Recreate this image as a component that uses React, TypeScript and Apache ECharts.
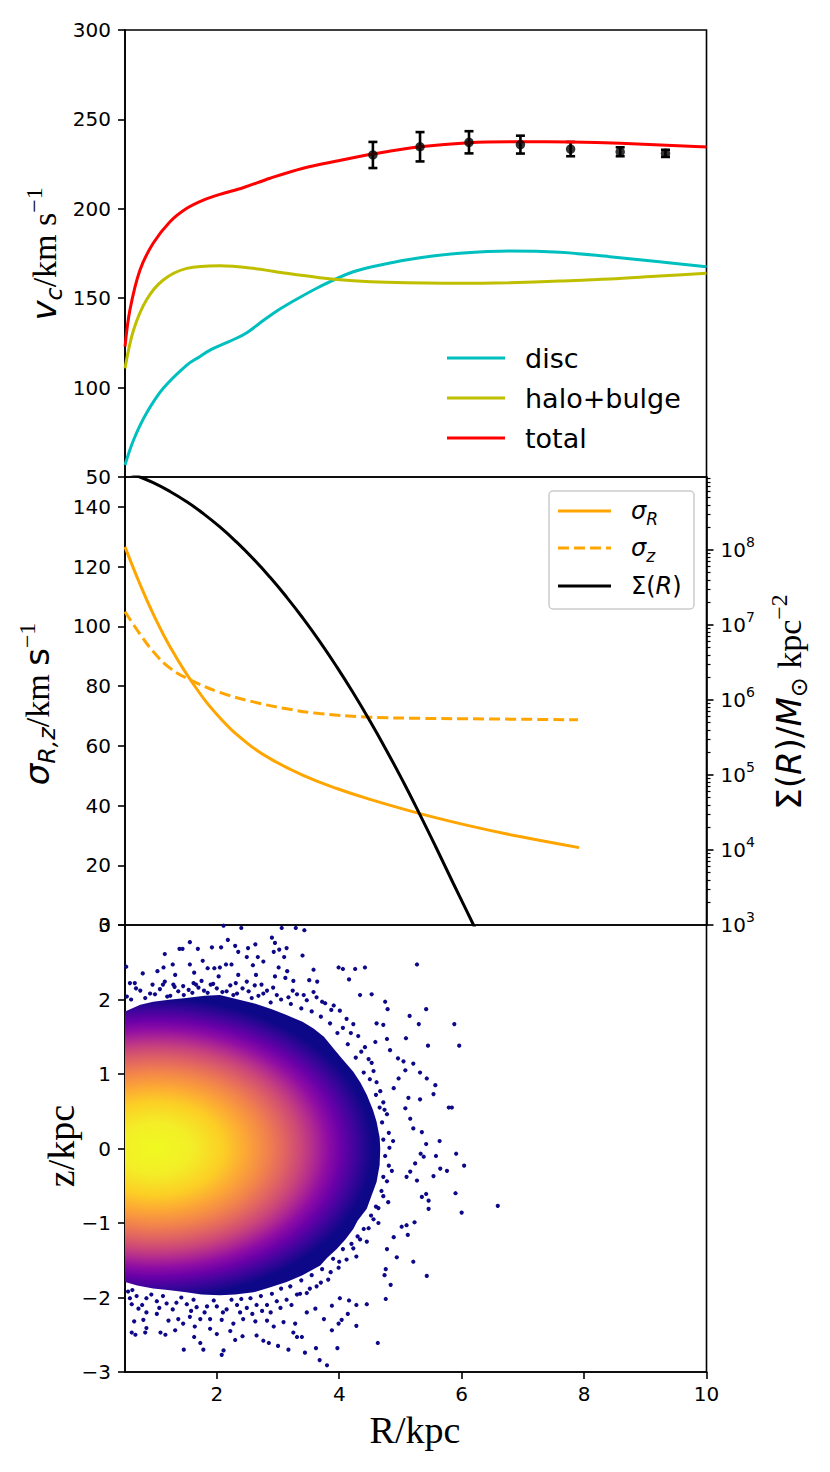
import React, { useEffect, useRef } from "react";
import * as echarts from "echarts";

// ---------------- data ----------------
// top panel: circular velocity curves [R (kpc), v_c (km/s)]
const discCurve: number[][] = [
  [0.5, 56.7], [0.64, 70.7], [0.85, 85.6], [1.125, 99.6], [1.51, 112.6], [1.72, 117.3], [1.89, 121.0],
  [2.32, 127.6], [2.49, 130.7], [2.7, 136.0], [2.92, 141.5], [3.14, 146.2], [3.68, 156.4], [4.23, 164.8],
  [4.77, 169.3], [5.32, 172.6], [5.97, 175.1], [6.78, 176.4], [7.6, 175.7], [8.42, 173.2], [9.23, 170.4], [10, 167.6],
];
const haloBulgeCurve: number[][] = [
  [0.5, 110.8], [0.64, 132.2], [0.85, 149.0], [1.125, 160.2], [1.51, 166.7], [2.05, 168.2], [2.6, 166.7],
  [3.14, 163.9], [3.68, 161.5], [4.23, 159.8], [4.77, 158.9], [5.97, 158.3], [6.78, 158.7], [7.6, 159.6],
  [8.42, 160.7], [9.23, 162.4], [10, 163.9],
];
const totalCurve: number[][] = [
  [0.5, 122.9], [0.58, 143.4], [0.745, 165.8], [0.96, 180.7], [1.235, 192.8], [1.51, 200.3], [1.78, 204.9],
  [2.05, 208.1], [2.43, 211.8], [2.87, 217.1], [3.41, 222.7], [3.96, 226.7], [4.55, 230.6], [5.32, 234.7],
  [6.12, 237.0], [6.96, 237.5], [7.78, 237.3], [8.59, 236.6], [9.91, 234.7], [10, 234.6],
];
// observed points [R, v_c, error]
const observed: number[][] = [
  [4.55, 230.1, 7.3], [5.32, 234.7, 8.2], [6.12, 237.2, 6.2], [6.96, 235.9, 5.0],
  [7.78, 233.4, 4.0], [8.59, 231.9, 2.5], [9.33, 231.0, 2.0],
];

// middle panel: dispersions [R, sigma (km/s)] and log10 surface density [R, log10 Sigma]
const sigmaRCurve: number[][] = [
  [0.5, 126.6], [0.745, 114.1], [0.96, 104.2], [1.235, 93.2], [1.615, 80.7], [2.05, 69.4], [2.49, 61.0],
  [2.87, 55.7], [3.41, 50.1], [3.96, 45.7], [4.5, 42.1], [5.32, 37.3], [6.13, 33.2], [6.95, 29.6], [7.92, 25.9],
];
const sigmaZCurve: number[][] = [
  [0.5, 104.9], [0.745, 97.4], [0.96, 91.6], [1.235, 86.0], [1.615, 81.6], [2.05, 77.9], [2.6, 74.7],
  [3.14, 72.4], [3.68, 70.8], [4.5, 69.6], [5.32, 69.2], [6.4, 69.0], [7.9, 68.7],
];
const logSurfaceDensity: number[][] = [
  [0.5, 9.043], [0.69, 8.99], [0.96, 8.897], [1.235, 8.78], [1.51, 8.642], [1.78, 8.485], [2.05, 8.307],
  [2.32, 8.107], [2.6, 7.878], [2.87, 7.636], [3.14, 7.372], [3.41, 7.087], [3.68, 6.781], [3.96, 6.441],
  [4.23, 6.092], [4.5, 5.722], [4.77, 5.331], [5.05, 4.903], [5.32, 4.469], [5.59, 4.02], [5.86, 3.56],
  [6.2, 2.99], [6.35, 2.73],
];

// bottom panel: particle distribution [R, z]
const denseEdge: number[][] = [
  [0.5, 1.84], [0.75, 1.93], [0.96, 1.97], [1.25, 2.0], [1.5, 2.02], [1.8, 2.05], [2.05, 2.06], [2.35, 2.0],
  [2.6, 1.95], [2.9, 1.87], [3.14, 1.79], [3.4, 1.7], [3.58, 1.61], [3.75, 1.5], [3.9, 1.35], [4.05, 1.2],
  [4.23, 1.03], [4.35, 0.88], [4.45, 0.72], [4.55, 0.52], [4.61, 0.36], [4.66, 0.15], [4.67, 0], [4.66, -0.22],
  [4.61, -0.45], [4.52, -0.65], [4.45, -0.81], [4.3, -0.97], [4.23, -1.08], [4.1, -1.22], [3.96, -1.35],
  [3.8, -1.47], [3.69, -1.57], [3.4, -1.7], [3.14, -1.79], [2.85, -1.87], [2.6, -1.93], [2.3, -1.96],
  [2.05, -1.97], [1.75, -1.96], [1.5, -1.93], [1.2, -1.9], [0.96, -1.88], [0.7, -1.84], [0.5, -1.79],
];
const denseCentre: number[] = [1.0, 0];
const denseRadii: number[] = [3.7, 2.1];
const sparseStars: number[][] = [
  [2.11, 2.99], [2.4, 2.96], [3.06, 2.96], [3.29, 2.96], [3.43, 2.93], [2.9, 2.83], [2.18, 2.8], [1.56, 2.77],
  [2.95, 2.76], [2.63, 2.74], [1.92, 2.7], [2.07, 2.7], [2.3, 2.72], [2.51, 2.69], [1.39, 2.68], [1.44, 2.68],
  [1.69, 2.68], [2.93, 2.64], [3.02, 2.67], [3.14, 2.69], [1.15, 2.61], [2.35, 2.64], [2.49, 2.57], [2.67, 2.57],
  [3.1, 2.57], [3.4, 2.59], [1.28, 2.47], [1.13, 2.43], [1.56, 2.47], [1.77, 2.52], [1.85, 2.42], [1.96, 2.42],
  [2.05, 2.43], [2.15, 2.47], [2.24, 2.47], [2.59, 2.46], [2.76, 2.51], [3.01, 2.43], [3.15, 2.38], [3.58, 2.4],
  [3.99, 2.43], [4.06, 2.41], [4.26, 2.41], [4.42, 2.43], [5.27, 2.47], [0.79, 2.35], [1.03, 2.38], [1.32, 2.33],
  [1.63, 2.36], [2.03, 2.31], [2.35, 2.33], [2.64, 2.33], [2.95, 2.31], [3.12, 2.29], [3.25, 2.25], [3.51, 2.26],
  [3.64, 2.24], [4.16, 2.27], [0.58, 2.22], [0.66, 2.22], [0.95, 2.2], [1.15, 2.24], [1.29, 2.2], [1.45, 2.18],
  [1.62, 2.22], [1.75, 2.25], [1.94, 2.21], [2.31, 2.22], [2.49, 2.24], [2.73, 2.2], [0.52, 2.44],
  [0.53, 2.04], [0.75, 2.12], [0.91, 2.08], [1.07, 2.14], [1.24, 2.05], [1.37, 2.11], [1.54, 2.13], [1.7, 2.16],
  [1.85, 2.09], [2.0, 2.15], [2.16, 2.11], [2.33, 2.08], [2.52, 2.11], [2.68, 2.05], [2.82, 2.12], [2.98, 2.06],
  [3.17, 2.03], [3.31, 2.07], [3.47, 1.99], [3.63, 2.03], [3.77, 1.95], [3.91, 1.92], [4.01, 1.85], [4.12, 1.74],
  [4.23, 1.67], [4.31, 1.51], [4.42, 1.36], [4.48, 1.2], [4.56, 1.04], [4.61, 0.89], [4.67, 0.77], [4.72, 0.62],
  [4.78, 0.46], [4.81, 0.21], [4.82, 0.01], [4.81, -0.23], [4.78, -0.44], [4.72, -0.64], [4.64, -0.8],
  [4.56, -0.95], [4.48, -1.07], [4.34, -1.22], [4.23, -1.34], [4.12, -1.49], [3.99, -1.6], [3.82, -1.76],
  [3.63, -1.85], [3.47, -1.94], [3.31, -1.96], [3.14, -2.03], [2.98, -2.05], [2.82, -2.1], [2.65, -2.1],
  [2.49, -2.14], [2.33, -2.1], [2.16, -2.16], [2.0, -2.12], [1.84, -2.12], [1.67, -2.13], [1.51, -2.09],
  [1.34, -2.07], [1.18, -2.08], [1.02, -2.05], [0.85, -2.01], [0.69, -1.98], [0.55, -1.92],
  [4.34, 2.06], [4.53, 2.07], [4.75, 1.97], [4.79, 1.87], [5.15, 1.78], [5.42, 1.87], [5.3, 1.67], [5.88, 1.67],
  [5.96, 1.38], [5.45, 1.38], [5.09, 1.48], [4.78, 1.47], [4.59, 1.43], [4.61, 1.68], [4.72, 1.66], [4.83, 1.32],
  [4.96, 1.21], [5.05, 1.17], [5.21, 1.14], [5.08, 1.05], [5.32, 1.02], [5.43, 0.94], [5.57, 0.85], [5.54, 0.73],
  [5.32, 0.66], [5.13, 0.68], [5.79, 0.55], [5.84, 0.55], [4.97, 0.94], [4.89, 0.81], [5.08, 0.54], [5.16, 0.4],
  [5.21, 0.27], [5.35, 0.22], [5.42, 0.06], [5.64, 0.1], [5.58, -0.1], [5.65, -0.27], [5.76, -0.3], [5.91, -0.07],
  [6.04, -0.23], [5.33, -0.07], [5.38, -0.11], [5.54, -0.37], [5.16, -0.31], [5.24, -0.2], [5.27, -0.43],
  [5.1, -0.38], [5.9, -0.6], [6.0, -0.86], [6.59, -0.77], [5.42, -0.61], [5.46, -0.7], [5.46, -0.81],
  [5.35, -0.65], [5.23, -0.99], [5.1, -1.03], [5.21, -1.52], [5.43, -1.71], [5.12, -1.16], [5.02, -1.05],
  [4.89, -1.19], [4.78, -1.35], [4.94, -1.46], [4.76, -1.62], [4.74, -1.7], [4.84, -1.83], [4.76, -2.02],
  [4.45, -2.09],
  [4.63, -2.61], [4.28, -2.38], [4.14, -2.22], [3.97, -2.68], [3.8, -2.91], [3.68, -2.84], [3.62, -2.68],
  [3.44, -2.74], [3.17, -2.7], [3.0, -2.65], [2.85, -2.61], [2.76, -2.58], [2.65, -2.51], [2.42, -2.52],
  [2.3, -2.57], [2.11, -2.71], [2.08, -2.77], [1.46, -2.7], [1.73, -2.61], [1.78, -2.7], [1.63, -2.53],
  [1.16, -2.5], [1.08, -2.47], [0.83, -2.47], [0.67, -2.5], [0.61, -2.47], [0.65, -2.32], [0.8, -2.3],
  [0.85, -2.41], [1.32, -2.44], [1.45, -2.35], [1.64, -2.39], [1.89, -2.42], [2.0, -2.49], [2.22, -2.45],
  [3.25, -2.47], [3.31, -2.53], [3.39, -2.53], [3.88, -2.44], [3.99, -2.35], [4.04, -2.3], [4.28, -2.1],
  [4.16, -2.04], [4.01, -2.01], [3.88, -2.11], [3.75, -2.29], [3.61, -2.15], [3.47, -2.2], [3.28, -2.35],
  [3.09, -2.33], [2.93, -2.39], [2.82, -2.31], [2.63, -2.32], [2.43, -2.29], [2.27, -2.35], [2.08, -2.3],
  [1.89, -2.29], [1.73, -2.29], [1.56, -2.26], [1.37, -2.29], [1.21, -2.31], [1.02, -2.22], [0.85, -2.2],
  [0.72, -2.15], [0.61, -2.09],
];
// speckle just outside the dense edge
const edgeStars: number[][] = [
  [0.6, 2.0], [0.68, 2.15], [0.83, 2.02], [0.99, 2.07], [1.12, 2.2], [1.19, 2.04], [1.31, 2.17], [1.46, 2.06],
  [1.6, 2.09], [1.66, 2.2], [1.79, 2.12], [1.9, 2.2], [2.09, 2.1], [2.22, 2.19], [2.27, 2.06], [2.42, 2.15],
  [2.57, 2.02], [2.62, 2.19], [2.76, 2.08], [2.88, 1.96], [2.92, 2.16], [3.05, 2.0], [3.21, 1.94], [3.24, 2.12],
  [3.38, 1.88], [3.42, 2.06], [3.55, 1.84], [3.58, 2.1], [3.7, 1.77], [3.72, 1.97], [3.85, 1.68], [3.87, 1.86],
  [3.97, 1.55], [4.06, 1.62], [4.14, 1.4], [4.19, 1.55], [4.27, 1.22], [4.36, 1.3], [4.4, 1.02], [4.5, 0.93],
  [4.53, 1.15], [4.6, 0.72], [4.66, 0.55], [4.7, 0.35], [4.74, 0.52], [4.72, 0.12], [4.88, 0.1], [4.75, -0.1],
  [4.86, -0.3], [4.72, -0.38], [4.69, -0.57], [4.8, -0.72], [4.6, -0.78], [4.52, -0.9], [4.64, -1.0],
  [4.4, -1.08], [4.45, -1.25], [4.3, -1.18], [4.2, -1.28], [4.28, -1.45], [4.06, -1.35], [4.0, -1.52],
  [3.9, -1.48], [3.86, -1.66], [3.72, -1.62], [3.7, -1.8], [3.55, -1.7], [3.52, -1.88], [3.38, -1.77],
  [3.36, -1.95], [3.2, -1.85], [3.22, -2.1], [3.05, -1.88], [3.04, -2.14], [2.9, -1.95], [2.88, -2.2],
  [2.72, -1.98], [2.74, -2.18], [2.55, -2.01], [2.58, -2.22], [2.4, -2.02], [2.38, -2.2], [2.24, -2.03],
  [2.1, -2.2], [1.95, -2.04], [1.8, -2.2], [1.62, -2.03], [1.58, -2.18], [1.42, -2.0], [1.28, -2.16],
  [1.12, -1.98], [1.06, -2.14], [0.93, -1.96], [0.78, -2.1], [0.62, -1.9], [0.58, -2.01],
];

// tick values
const vTicks = [50, 100, 150, 200, 250, 300];
const sigmaTicks = [0, 20, 40, 60, 80, 100, 120, 140];
const logTicks = [3, 4, 5, 6, 7, 8];
const zTicks = [-3, -2, -1, 0, 1, 2, 3];
const rTicks = [2, 4, 6, 8, 10];

// ---------------- styling ----------------
const LEFT = 125;
const WIDTH = 581.5;
const SANS = "DejaVu Sans";
const SERIF = "Liberation Serif";
const AX = { color: "#000", width: 1.6 };
const PLASMA: [number, string][] = [
  [0, "#f0f921"], [0.16, "#f3ee27"], [0.3, "#fcce25"], [0.4, "#fca636"], [0.49, "#f2844b"],
  [0.57, "#e16462"], [0.64, "#cc4778"], [0.7, "#b12a90"], [0.76, "#8f0da4"], [0.82, "#6a00a8"],
  [0.88, "#41049d"], [0.96, "#0d0887"], [1, "#0d0887"],
];

const minorLogTicks: number[] = [];
logTicks.forEach((n) => {
  for (let k = 2; k <= 9; k++) {
    const v = n + Math.log10(k);
    if (v < 8.973) minorLogTicks.push(v);
  }
});

const tickLabel = { fontFamily: SANS, fontSize: 20, color: "#000" };
const hiddenX = (gridIndex: number) => ({
  gridIndex, type: "value", min: 0.5, max: 10,
  axisLine: { show: false, onZero: false }, axisTick: { show: false },
  axisLabel: { show: false }, splitLine: { show: false },
});

const titleRich = (size: number) => ({
  it: { fontFamily: SANS, fontStyle: "italic", fontSize: size, lineHeight: size + 10, fill: "#000" },
  sf: { fontFamily: SANS, fontSize: size, lineHeight: size + 10, fill: "#000" },
  rm: { fontFamily: SERIF, fontSize: size, lineHeight: size + 10, fill: "#000" },
  sub: { fontFamily: SANS, fontStyle: "italic", fontSize: size * 0.7, lineHeight: size * 0.7, verticalAlign: "bottom", fill: "#000" },
  subn: { fontFamily: SANS, fontSize: size * 0.7, lineHeight: size * 0.7, verticalAlign: "bottom", fill: "#000" },
  sup: { fontFamily: SERIF, fontSize: size * 0.7, lineHeight: size * 0.7, verticalAlign: "top", fill: "#000" },
});

function buildOption() {
  const lineSeries = (name: string, data: number[][], color: string, grid: number, yIdx: number, smooth: number, dash?: number[]) => ({
    name, type: "line", data, xAxisIndex: grid, yAxisIndex: yIdx, showSymbol: false, symbol: "none",
    smooth, clip: true, silent: true,
    lineStyle: { color, width: 3, type: dash ? dash : "solid" },
  });

  const legendLine = (x1: number, x2: number, y: number, color: string, dash?: number[]) => ({
    type: "line", z: 100, silent: true,
    shape: { x1, y1: y, x2, y2: y },
    style: { stroke: color, lineWidth: 3, lineDash: dash },
  });
  const plainText = (x: number, y: number, text: string, size: number) => ({
    type: "text", z: 100, x, y, silent: true,
    style: { text, fill: "#000", font: `${size}px "${SANS}"`, verticalAlign: "middle", align: "left" },
  });
  const richText = (x: number, y: number, text: string, rich: any, rotation = 0) => ({
    type: "text", z: 100, x, y, rotation, silent: true,
    style: { text, rich, fill: "#000", align: rotation ? "center" : "left", verticalAlign: "middle" },
  });

  const legRich = {
    it: { fontFamily: SANS, fontStyle: "italic", fontSize: 24, lineHeight: 32, fill: "#000" },
    n: { fontFamily: SANS, fontSize: 24, lineHeight: 32, fill: "#000" },
    sub: { fontFamily: SANS, fontStyle: "italic", fontSize: 17, lineHeight: 17, verticalAlign: "bottom", fill: "#000" },
  };

  const starSeries = (name: string, data: number[][]) => ({
    name, type: "scatter", xAxisIndex: 2, yAxisIndex: 4, silent: true,
    data, symbol: "circle", symbolSize: 4.2,
    itemStyle: { color: "#0d0887", opacity: 1 }, z: 4,
  });

  return {
    animation: false,
    backgroundColor: "#fff",
    grid: [
      { left: LEFT, top: 30, width: WIDTH, height: 447, show: true, borderColor: "#000", borderWidth: 1.6, backgroundColor: "transparent", outerBoundsMode: "none" },
      { left: LEFT, top: 477, width: WIDTH, height: 448, show: true, borderColor: "#000", borderWidth: 1.6, backgroundColor: "transparent", outerBoundsMode: "none" },
      { left: LEFT, top: 925, width: WIDTH, height: 447, show: true, borderColor: "#000", borderWidth: 1.6, backgroundColor: "transparent", outerBoundsMode: "none" },
    ],
    xAxis: [
      hiddenX(0),
      hiddenX(1),
      {
        gridIndex: 2, type: "value", min: 0.5, max: 10,
        axisLine: { show: true, onZero: false, lineStyle: AX },
        axisTick: { show: true, length: 7, lineStyle: AX, customValues: rTicks },
        axisLabel: { ...tickLabel, margin: 12, customValues: rTicks },
        splitLine: { show: false },
      },
    ],
    yAxis: [
      {
        gridIndex: 0, type: "value", min: 50, max: 300, interval: 50,
        axisLine: { show: true, onZero: false, lineStyle: AX },
        axisTick: { show: true, length: 7, lineStyle: AX, customValues: vTicks },
        axisLabel: { ...tickLabel, margin: 14, customValues: vTicks },
        splitLine: { show: false },
      },
      {
        gridIndex: 1, type: "value", min: 0, max: 150,
        axisLine: { show: true, onZero: false, lineStyle: AX },
        axisTick: { show: true, length: 7, lineStyle: AX, customValues: sigmaTicks },
        axisLabel: { ...tickLabel, margin: 14, customValues: sigmaTicks },
        splitLine: { show: false },
      },
      {
        gridIndex: 1, type: "value", position: "right", min: 3, max: 8.973,
        axisLine: { show: true, onZero: false, lineStyle: AX },
        axisTick: { show: true, length: 7, lineStyle: AX, customValues: logTicks },
        axisLabel: {
          margin: 14, customValues: logTicks,
          formatter: (v: number) => `{a|10}{b|${Math.round(v)}}`,
          rich: {
            a: { fontFamily: SANS, fontSize: 20, lineHeight: 30, color: "#000" },
            b: { fontFamily: SANS, fontSize: 14, lineHeight: 14, verticalAlign: "top", color: "#000" },
          },
        },
        splitLine: { show: false },
      },
      {
        gridIndex: 1, type: "value", position: "right", min: 3, max: 8.973,
        axisLine: { show: false, onZero: false },
        axisTick: { show: true, length: 4, lineStyle: { color: "#000", width: 1.2 }, customValues: minorLogTicks },
        axisLabel: { show: false },
        splitLine: { show: false },
      },
      {
        gridIndex: 2, type: "value", min: -3, max: 3, interval: 1,
        axisLine: { show: true, onZero: false, lineStyle: AX },
        axisTick: { show: true, length: 7, lineStyle: AX, customValues: zTicks },
        axisLabel: {
          ...tickLabel, margin: 14, customValues: zTicks,
          formatter: (v: number) => (v < 0 ? "\u2212" + Math.abs(v) : String(v)),
        },
        splitLine: { show: false },
      },
    ],
    series: [
      lineSeries("disc", discCurve, "#00bfbf", 0, 0, 0.35),
      lineSeries("halo+bulge", haloBulgeCurve, "#bfbf00", 0, 0, 0.35),
      lineSeries("total", totalCurve, "#ff0000", 0, 0, 0.35),
      {
        name: "errors", type: "custom", xAxisIndex: 0, yAxisIndex: 0, silent: true,
        data: observed, encode: { x: 0, y: 1 },
        renderItem: (params: any, api: any) => {
          const x = api.value(0), y = api.value(1), e = api.value(2);
          const top = api.coord([x, y + e]);
          const bot = api.coord([x, y - e]);
          const st = { stroke: "#000", lineWidth: 2.6 };
          const cap = 4.5;
          return {
            type: "group",
            children: [
              { type: "line", shape: { x1: top[0], y1: top[1], x2: bot[0], y2: bot[1] }, style: st },
              { type: "line", shape: { x1: top[0] - cap, y1: top[1], x2: top[0] + cap, y2: top[1] }, style: st },
              { type: "line", shape: { x1: bot[0] - cap, y1: bot[1], x2: bot[0] + cap, y2: bot[1] }, style: st },
            ],
          };
        },
      },
      {
        name: "observed", type: "scatter", xAxisIndex: 0, yAxisIndex: 0, silent: true,
        data: observed.map((d) => [d[0], d[1]]), symbol: "circle", symbolSize: 9.5,
        itemStyle: { color: "#000" }, z: 5,
      },
      lineSeries("sigmaR", sigmaRCurve, "#ffa500", 1, 1, 0.45),
      lineSeries("sigmaZ", sigmaZCurve, "#ffa500", 1, 1, 0.45, [11, 5]),
      lineSeries("Sigma", logSurfaceDensity, "#000", 1, 2, 0.5),
      {
        name: "density", type: "custom", xAxisIndex: 2, yAxisIndex: 4, silent: true,
        data: [denseCentre],
        encode: { x: 0, y: 1 },
        renderItem: (params: any, api: any) => {
          const c = api.coord(denseCentre);
          const rx = api.size([denseRadii[0], 0])[0];
          const ry = api.size([0, denseRadii[1]])[1];
          const s = ry / rx;
          const pts = denseEdge.map((p) => {
            const q = api.coord(p);
            return [q[0] - c[0], (q[1] - c[1]) / s];
          });
          const fill = new echarts.graphic.RadialGradient(
            0, 0, rx, PLASMA.map(([offset, color]) => ({ offset, color })), true
          );
          return {
            type: "group", x: c[0], y: c[1], scaleY: s,
            children: [{ type: "polygon", shape: { points: pts }, style: { fill, stroke: "none" } }],
          };
        },
      },
      starSeries("stars", sparseStars),
      starSeries("edgeStars", edgeStars),
    ],
    graphic: [
      // top legend
      legendLine(447, 505, 358, "#00bfbf"),
      legendLine(447, 505, 398, "#bfbf00"),
      legendLine(447, 505, 438, "#ff0000"),
      plainText(525, 358, "disc", 27),
      plainText(525, 398, "halo+bulge", 27),
      plainText(525, 438, "total", 27),
      // middle legend
      {
        type: "rect", z: 99, silent: true,
        shape: { x: 549, y: 491, width: 145, height: 118, r: 4 },
        style: { fill: "rgba(255,255,255,0.8)", stroke: "#cccccc", lineWidth: 1.5 },
      },
      legendLine(558, 611, 511, "#ffa500"),
      legendLine(558, 611, 548, "#ffa500", [11, 5]),
      legendLine(558, 611, 586, "#000"),
      richText(631, 511, "{it|σ}{sub|R}", legRich),
      richText(631, 548, "{it|σ}{sub|z}", legRich),
      richText(631, 586, "{n|Σ(}{it|R}{n|)}", legRich),
      // axis titles
      richText(44, 254, "{it|v}{sub|c}{rm|/km s}{sup|\u22121}", titleRich(34), Math.PI / 2),
      richText(37, 704, "{it|σ}{sub|R,z}{rm|/km }{sf|s}{sup|\u22121}", titleRich(34), Math.PI / 2),
      richText(789, 702, "{sf|Σ(}{it|R}{sf|)/}{it|M}{subn|⊙}{rm| kpc}{sup|\u22122}", titleRich(34), Math.PI / 2),
      {
        type: "text", z: 100, x: 61, y: 1146, rotation: Math.PI / 2, silent: true,
        style: { text: "z/kpc", fill: "#000", font: `38px "${SERIF}"`, align: "center", verticalAlign: "middle" },
      },
      {
        type: "text", z: 100, x: 415, y: 1430, silent: true,
        style: { text: "R/kpc", fill: "#000", font: `38px "${SERIF}"`, align: "center", verticalAlign: "middle" },
      },
    ],
  };
}

export default function App() {
  const ref = useRef<HTMLDivElement>(null);
  useEffect(() => {
    document.body.style.margin = "0";
    if (!ref.current) return;
    const chart = echarts.init(ref.current, undefined, { renderer: "svg" });
    chart.setOption(buildOption() as any);
    return () => chart.dispose();
  }, []);
  return <div ref={ref} style={{ width: 830, height: 1472, background: "#fff" }} />;
}
